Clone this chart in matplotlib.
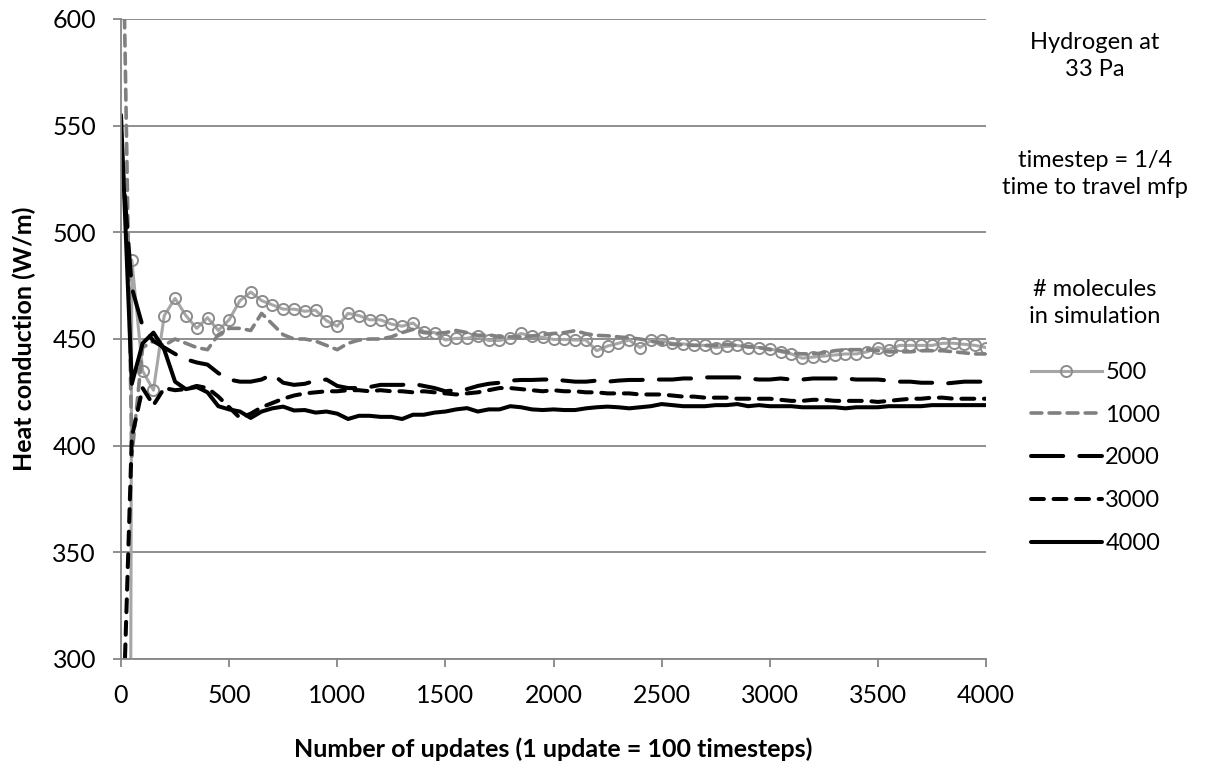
import numpy as np
import matplotlib
matplotlib.use("Agg")
import matplotlib.pyplot as plt

# number of updates (every 50)
updates = np.arange(0, 4001, 50)

q500 = [-1500, 487, 435, 426, 461, 469, 461, 455, 460, 454,
        459, 468, 472, 468, 466, 464, 464, 463, 463.5, 458.6,
        456, 462, 461, 459, 459, 457, 456, 457.5, 453.5, 453,
        449.5, 450.3, 450.3, 451.4, 449.3, 449.3, 450.3, 452.6, 451.4, 450.8,
        449.8, 449.8, 449.5, 449.5, 444.5, 446.7, 448, 449.5, 446, 449.3,
        449.3, 448, 447.7, 447.2, 447, 446, 446.5, 447, 446, 446,
        445.5, 444, 443, 441, 441.5, 442, 442.5, 443, 443, 444,
        446, 445, 447, 447, 447, 447, 448, 448, 447.5, 447,
        446]
q1000 = [700, 395, 446, 449, 447, 450, 448, 446, 445, 452,
         455, 455, 454, 462, 457, 452, 450, 450, 449, 447,
         445, 448, 449.5, 450, 450, 451, 453, 454.5, 453, 452.6,
         453, 454, 453, 451.7, 452, 451, 451, 451, 451.4, 452,
         452.6, 453, 453.9, 452.5, 451.7, 451.5, 451, 450.5, 450, 449,
         448, 447.5, 447.2, 447, 447, 447, 447.5, 447, 446.5, 446,
         445, 444.5, 443.5, 443, 443, 443.5, 444.5, 445, 445, 445,
         444.5, 444, 444, 444, 444.5, 444.5, 444.5, 444, 443.5, 443,
         443]
q2000 = [540, 474, 456, 449, 446, 443, 440.5, 439, 438, 434,
         431, 430, 430, 431, 433.5, 429.5, 428.5, 429, 430.5, 431,
         428, 427, 427, 427.5, 428.5, 428.5, 428.5, 429, 428, 427,
         425.5, 426, 426.5, 428, 429, 429.5, 430.5, 430.8, 430.8, 431,
         431, 430.5, 430, 430, 430.5, 430, 430.5, 430.8, 430.8, 431,
         431, 431, 431.5, 431.5, 432, 432, 432, 432, 431.5, 431,
         431, 431.5, 431, 431, 431.5, 431.5, 431.5, 431.5, 431, 431,
         431, 430.5, 430, 430, 429.5, 429.5, 429, 429.5, 430, 430,
         430]
q3000 = [240, 404, 427, 419, 427, 426, 426.5, 428, 427, 423,
         418, 413, 415, 418, 420, 422, 423.5, 424.5, 425, 425.5,
         425.5, 426, 426, 425.5, 426, 425.5, 425.5, 425, 425.5, 425,
         424.5, 424, 424.5, 425, 426, 427, 427, 426.5, 426, 425.5,
         426, 425.5, 425.5, 425, 425, 424.5, 424.5, 424.5, 424, 424,
         424, 423.5, 423, 423, 422.5, 422.5, 422.5, 422, 422, 422,
         422, 421.5, 421, 421, 421.5, 421.5, 421, 421, 421, 421,
         420.5, 421, 421.5, 422, 422, 422.5, 422.5, 422, 422, 422,
         422]
q4000 = [555, 429, 448, 453, 445, 430, 426.5, 427.5, 425, 418.5,
         417, 416, 413, 416, 417.5, 418.3, 416.5, 416.7, 415.5, 416,
         415, 412.5, 414, 414, 413.5, 413.5, 412.5, 414.5, 414.5, 415.5,
         416, 417, 417.6, 416, 417, 417, 418.5, 418, 417, 416.7,
         417, 416.7, 416.7, 417.5, 418, 418.3, 418, 417.5, 418, 418.5,
         419.5, 419, 418.5, 418.5, 418.5, 419, 419, 419.5, 418.5, 419,
         418.5, 418.5, 418.5, 418, 418, 418, 418, 417.5, 418, 418,
         418, 418.5, 418.5, 418.5, 418.5, 419, 419, 419, 419, 419,
         419]

labels = ["500", "1000", "2000", "3000", "4000"]

plt.rcParams["font.family"] = ["Lato", "DejaVu Sans"]

fig = plt.figure(figsize=(12.17, 7.69), dpi=100)
ax = fig.add_axes([121 / 1217, 1 - 659 / 769, 865 / 1217, 640 / 769])

grid_col = "#868686"
lines = []
lines += ax.plot(updates, q500, color="#A6A6A6", lw=2.2, marker="o", ms=8,
                 mfc="none", mec="#8C8C8C", mew=1.4)
lines += ax.plot(updates, q1000, color="#808080", lw=2.6, dashes=(3.0, 2.0),
                 dash_capstyle="round")
lines += ax.plot(updates, q2000, color="black", lw=2.9, dashes=(8, 4),
                 dash_capstyle="round")
lines += ax.plot(updates, q3000, color="black", lw=2.9, dashes=(3.2, 2.4),
                 dash_capstyle="round")
lines += ax.plot(updates, q4000, color="black", lw=2.9, solid_capstyle="round")

ax.set_xlim(0, 4000)
ax.set_ylim(300, 600)
ax.set_xticks(range(0, 4001, 500))
ax.set_yticks(range(300, 601, 50))
ax.yaxis.grid(True, color=grid_col, lw=1.3)
ax.set_axisbelow(True)
for s in ["top", "right"]:
    ax.spines[s].set_visible(False)
for s in ["left", "bottom"]:
    ax.spines[s].set_color(grid_col)
    ax.spines[s].set_linewidth(1.3)
ax.tick_params(axis="both", colors=grid_col, length=6, width=1.3,
               labelcolor="black", labelsize=18)
ax.tick_params(axis="x", pad=12)
ax.tick_params(axis="y", pad=12)

ax.set_xlabel("Number of updates (1 update = 100 timesteps)", fontsize=18,
              fontweight="bold", labelpad=22)
ax.set_ylabel("Heat conduction (W/m)", fontsize=18, fontweight="bold",
              labelpad=12)

fig.text(1095 / 1217, 1 - 56 / 769, "Hydrogen at\n33 Pa", ha="center",
         va="center", fontsize=17, linespacing=1.3)
fig.text(1095 / 1217, 1 - 174 / 769, "timestep = 1/4\ntime to travel mfp",
         ha="center", va="center", fontsize=17, linespacing=1.3)
fig.text(1095 / 1217, 1 - 303 / 769, "# molecules\nin simulation",
         ha="center", va="center", fontsize=17, linespacing=1.3)

fig.legend(lines, labels, loc="upper left",
           bbox_to_anchor=(1031 / 1217, 1 - 362 / 769), frameon=False,
           fontsize=17, handlelength=3.0, handletextpad=0.15,
           labelspacing=0.92, borderpad=0, borderaxespad=0)

fig.savefig("out.png", dpi=100)
